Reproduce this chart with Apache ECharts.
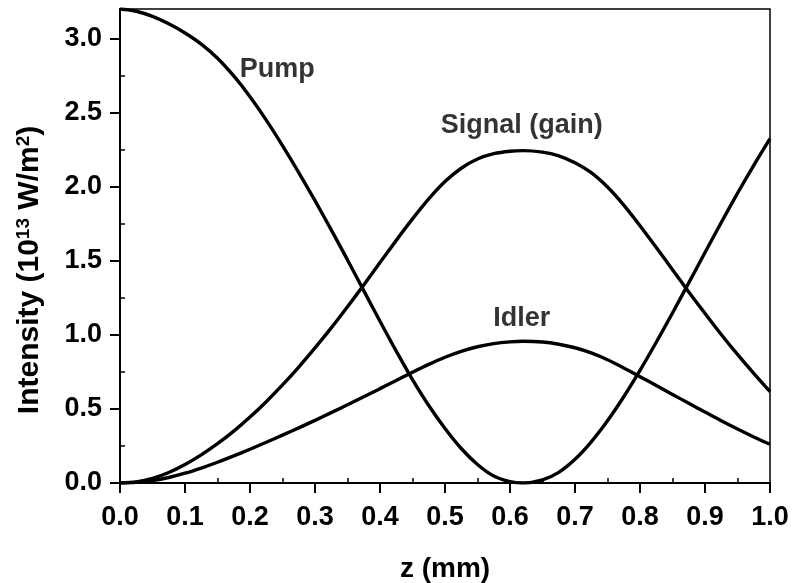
<!DOCTYPE html>
<html>
<head>
<meta charset="utf-8">
<script src="https://cdn.jsdelivr.net/npm/echarts@6/dist/echarts.min.js"></script>
<style>html,body{margin:0;padding:0;background:#fff}#c{width:792px;height:583px}</style>
</head>
<body>
<div id="c"></div>
<script>
const zValues = [0, 0.025, 0.05, 0.075, 0.1, 0.125, 0.15, 0.175, 0.2, 0.225, 0.25, 0.275, 0.3, 0.325, 0.35, 0.375, 0.4, 0.425, 0.45, 0.475, 0.5, 0.525, 0.55, 0.575, 0.6, 0.62,
  0.65, 0.675, 0.7, 0.725, 0.75, 0.775, 0.8, 0.825, 0.85, 0.875, 0.9, 0.925, 0.95, 0.975, 1.0];
const pump = [3.2, 3.185, 3.15, 3.10, 3.038, 2.963, 2.868, 2.748, 2.608, 2.45, 2.278, 2.096, 1.906, 1.709, 1.506, 1.299, 1.092, 0.89, 0.698, 0.523, 0.368, 0.233, 0.125, 0.047, 0.009, 0.0,
  0.021, 0.072, 0.16, 0.278, 0.42, 0.582, 0.76, 0.95, 1.148, 1.351, 1.556, 1.759, 1.956, 2.145, 2.325];
const signal = [0, 0.0075, 0.031, 0.071, 0.125, 0.19, 0.265, 0.35, 0.445, 0.549, 0.662, 0.783, 0.912, 1.047, 1.19, 1.337, 1.488, 1.638, 1.783, 1.918, 2.035, 2.125, 2.187, 2.223, 2.24, 2.244,
  2.234, 2.209, 2.162, 2.095, 1.998, 1.876, 1.737, 1.59, 1.44, 1.29, 1.145, 1.003, 0.868, 0.74, 0.617];
const idler = [0, 0.004, 0.016, 0.037, 0.066, 0.101, 0.14, 0.183, 0.228, 0.275, 0.323, 0.372, 0.423, 0.475, 0.528, 0.582, 0.637, 0.692, 0.748, 0.801, 0.849, 0.889, 0.92, 0.941, 0.953, 0.957,
  0.952, 0.937, 0.913, 0.878, 0.832, 0.777, 0.718, 0.658, 0.598, 0.538, 0.479, 0.42, 0.364, 0.311, 0.262];
const labelNames = ['Pump', 'Signal (gain)', 'Idler'];
const labelCoords = [[0.242, 2.79], [0.618, 2.41], [0.618, 1.11]];
const xTicks = ['0.0','0.1','0.2','0.3','0.4','0.5','0.6','0.7','0.8','0.9','1.0'];
const yTicks = ['0.0','0.5','1.0','1.5','2.0','2.5','3.0'];
const xMinor = [0.05, 0.15, 0.25, 0.35, 0.45, 0.55, 0.65, 0.75, 0.85, 0.95];
const yMinor = [0.25, 0.75, 1.25, 1.75, 2.25, 2.75];

const FONT = '"Liberation Sans", Arial, sans-serif';
const pair = arr => zValues.map((z, i) => [z, arr[i]]);
const chart = echarts.init(document.getElementById('c'), null, {renderer: 'canvas'});
const lineStyle = {color: '#000', width: 3.4};
const mkLine = (name, arr) => ({
  name, type: 'line', data: pair(arr), smooth: 0.3, symbol: 'none',
  lineStyle, clip: true, z: 3
});
const labelStyle = {fontFamily: FONT, fontWeight: 'bold', fontSize: 27, color: '#000'};
chart.setOption({
  animation: false,
  backgroundColor: '#fff',
  grid: {left: 120, right: 22, top: 9, bottom: 100, containLabel: false, outerBoundsMode: 'none',
    show: true, borderColor: '#000', borderWidth: 1.5, backgroundColor: 'transparent'},
  xAxis: [{
    type: 'value', min: 0, max: 1, interval: 0.1,
    name: 'z (mm)', nameLocation: 'middle', nameGap: 72,
    nameTextStyle: {fontFamily: FONT, fontWeight: 'bold', fontSize: 28, color: '#000'},
    axisLine: {show: true, onZero: false, lineStyle: {color: '#000', width: 2}},
    axisTick: {show: true, inside: false, length: 10, lineStyle: {color: '#000', width: 2}},
    axisLabel: Object.assign({margin: 21, formatter: v => xTicks[Math.round(v * 10)]}, labelStyle),
    splitLine: {show: false}
  }, {
    type: 'value', min: 0, max: 1, position: 'bottom',
    axisLine: {show: false},
    axisTick: {show: true, inside: true, length: 5, customValues: xMinor, lineStyle: {color: '#000', width: 1.5}},
    axisLabel: {show: false},
    splitLine: {show: false}
  }],
  yAxis: [{
    type: 'value', min: 0, max: 3.2, interval: 0.5,
    name: 'Intensity (10{sup|13} W/m{sup|2})', nameLocation: 'middle', nameGap: 74, nameRotate: 90,
    nameTextStyle: {fontFamily: FONT, fontWeight: 'bold', fontSize: 30, color: '#000', padding: [0, 48, 0, 0],
      rich: {sup: {fontFamily: FONT, fontWeight: 'bold', fontSize: 19, color: '#000', verticalAlign: 'top', padding: [0, 0, 13, 0]}}},
    axisLine: {show: true, onZero: false, lineStyle: {color: '#000', width: 2}},
    axisTick: {show: true, inside: false, length: 10, lineStyle: {color: '#000', width: 2}},
    axisLabel: Object.assign({margin: 18, showMaxLabel: false, formatter: v => yTicks[Math.round(v * 2)]}, labelStyle),
    splitLine: {show: false}
  }, {
    type: 'value', min: 0, max: 3.2, position: 'left',
    axisLine: {show: false},
    axisTick: {show: true, inside: true, length: 5, customValues: yMinor, lineStyle: {color: '#000', width: 1.5}},
    axisLabel: {show: false},
    splitLine: {show: false}
  }],
  series: [
    mkLine('Pump', pump),
    mkLine('Signal', signal),
    mkLine('Idler', idler),
    {
      type: 'scatter', symbolSize: 0, z: 5,
      data: labelCoords.map((c, i) => ({value: c, name: labelNames[i]})),
      label: Object.assign({show: true, position: 'inside', formatter: p => p.name}, labelStyle)
    }
  ]
});
</script>
</body>
</html>
